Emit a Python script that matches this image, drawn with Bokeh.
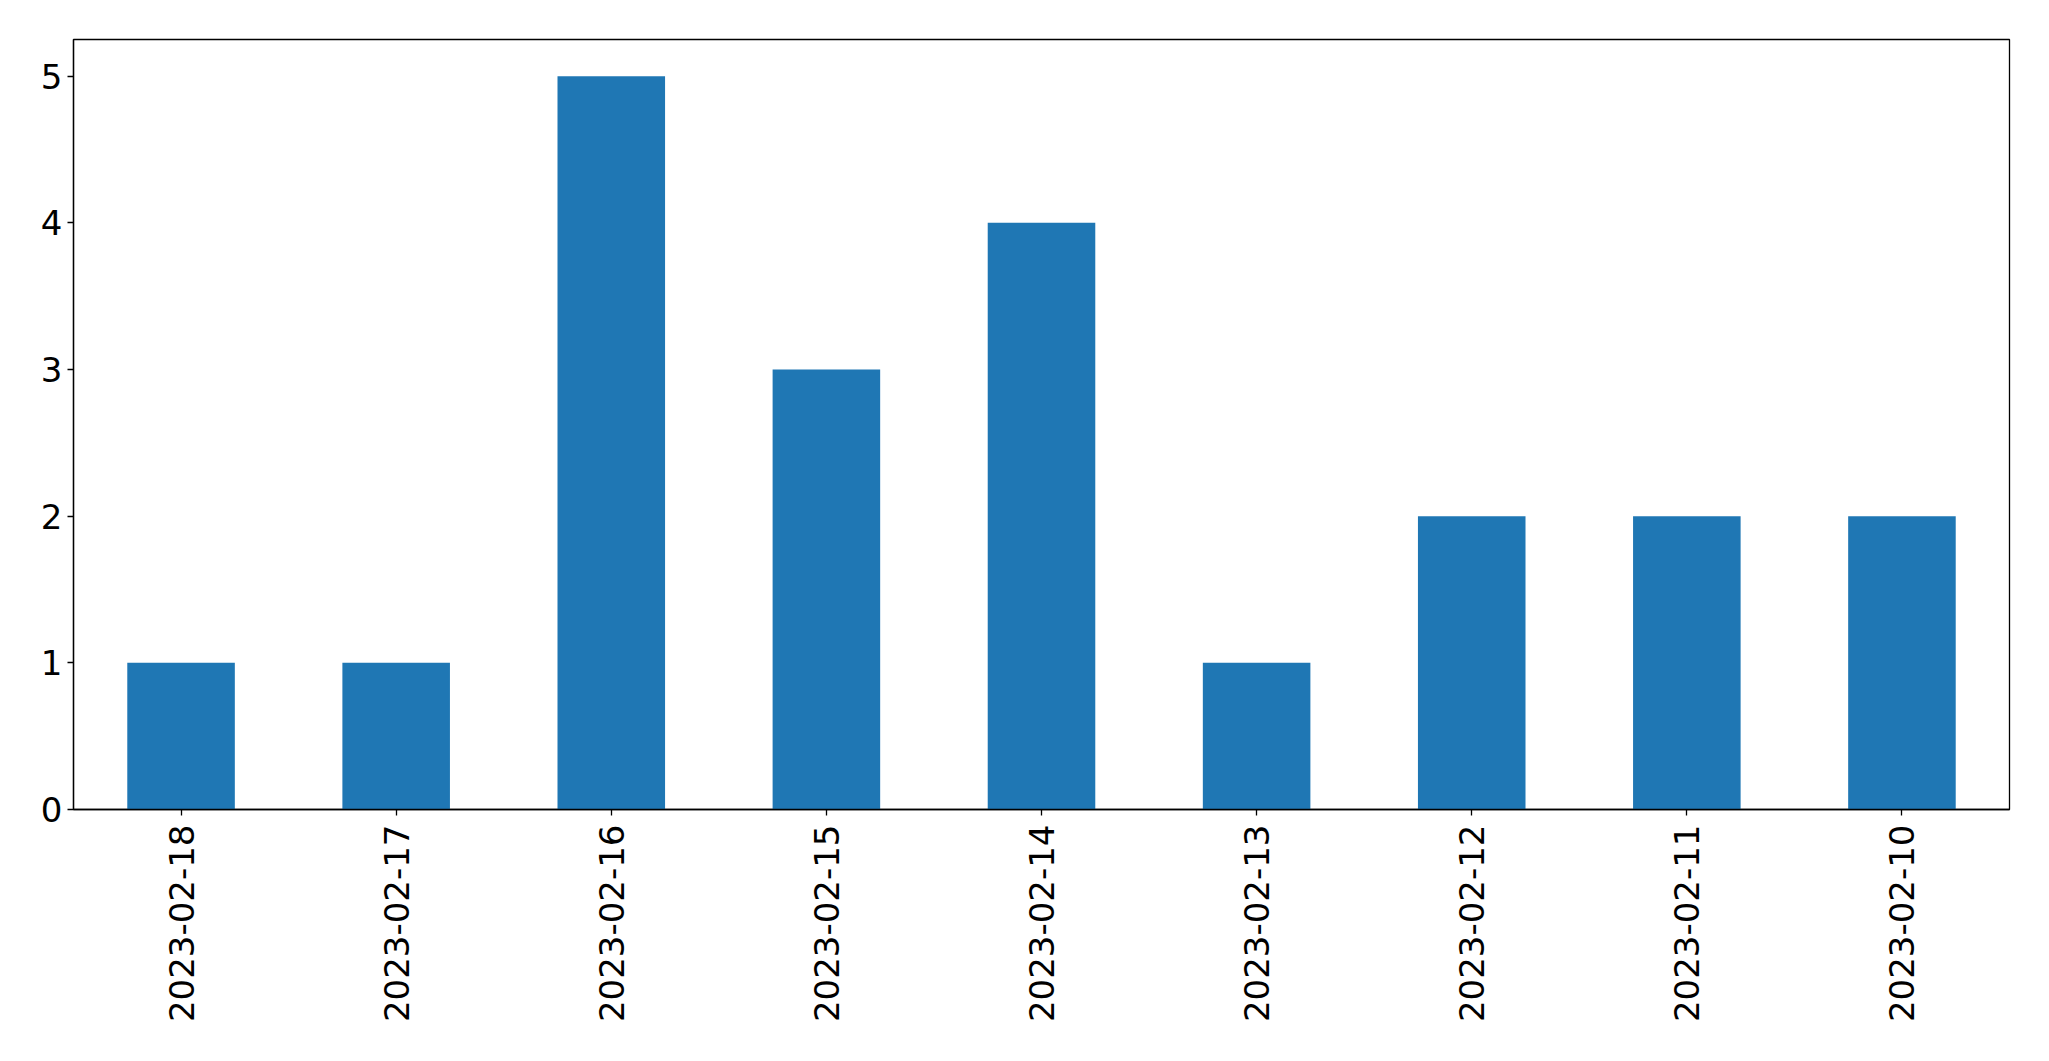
import math
from bokeh.plotting import figure
from bokeh.models import FactorRange, Range1d, FixedTicker
from bokeh.embed import file_html
from bokeh.resources import INLINE

dates = ["2023-02-18", "2023-02-17", "2023-02-16", "2023-02-15", "2023-02-14",
         "2023-02-13", "2023-02-12", "2023-02-11", "2023-02-10"]
counts = [1, 1, 5, 3, 4, 1, 2, 2, 2]
y_ticks = [0, 1, 2, 3, 4, 5]

p = figure(width=2049, height=1061, output_backend="svg", toolbar_location=None,
           x_range=FactorRange(factors=dates), y_range=Range1d(0, 5.25),
           min_border_left=73, min_border_right=40, min_border_top=39, min_border_bottom=252)
p.vbar(x=dates, top=counts, width=0.5, color="#1f77b4", line_color=None)

p.xgrid.visible = False
p.ygrid.visible = False
p.outline_line_color = "black"
p.outline_line_width = 1.3
p.background_fill_color = "white"
p.border_fill_color = "white"

for ax in (p.xaxis[0], p.yaxis[0]):
    ax.axis_line_color = "black"
    ax.axis_line_width = 1.3
    ax.major_tick_line_color = "black"
    ax.major_tick_line_width = 1.3
    ax.major_tick_out = 6
    ax.major_tick_in = 0
    ax.minor_tick_line_color = None
    ax.major_label_text_font = "DejaVu Sans"
    ax.major_label_text_font_size = "34px"
    ax.major_label_text_color = "black"

p.yaxis[0].ticker = FixedTicker(ticks=y_ticks)
p.yaxis[0].major_label_standoff = 5
p.xaxis[0].major_label_orientation = math.pi / 2
p.xaxis[0].major_label_standoff = 9

open("out.html", "w").write(file_html(p, INLINE))
